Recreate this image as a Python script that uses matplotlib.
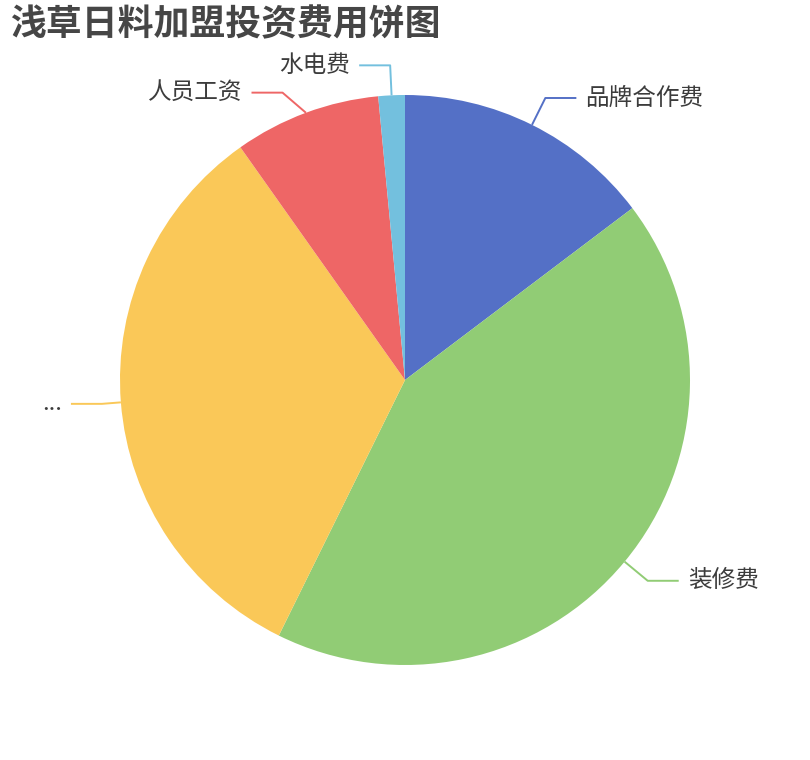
import matplotlib
matplotlib.use("Agg")
import matplotlib.pyplot as plt
import numpy as np

plt.rcParams['font.family'] = ['Noto Sans CJK SC', 'DejaVu Sans']

# data (share of total, clockwise from top)
names = ['品牌合作费', '装修费', '...', '人员工资', '水电费']
values = [14.7, 42.6, 32.9, 8.3, 1.5]
colors = ['#5470c6', '#91cc75', '#fac858', '#ee6666', '#73c0de']
title = '浅草日料加盟投资费用饼图'

# label layout tweaks (first segment length, bend shift)
len1 = [30, 30, 19, 30, 30]
shift = [(0, 0), (0, 0), (0, 0), (-13, -8), (0, 0)]

W, H = 810, 760
fig = plt.figure(figsize=(W / 100, H / 100), dpi=100)
ax = fig.add_axes([0, 0, 1, 1])

cx, cy, r = 405, 380, 285
wedges, _ = ax.pie(values, colors=colors, startangle=90, counterclock=False,
                   center=(cx, cy), radius=r, frame=True,
                   wedgeprops=dict(linewidth=0))
ax.set_xlim(0, W)
ax.set_ylim(0, H)
ax.set_aspect('equal')
ax.axis('off')

# leader lines + labels
tot = sum(values)
start = 0.0
for name, v, c, L, (sx_, sy_) in zip(names, values, colors, len1, shift):
    mid = start + v / tot * 360 / 2
    start += v / tot * 360
    a = np.deg2rad(mid)
    sx, sy = np.sin(a), np.cos(a)
    x0, y0 = cx + r * sx, cy + r * sy
    x1, y1 = cx + (r + L) * sx + sx_, cy + (r + L) * sy + sy_
    d = 1 if sx >= 0 else -1
    x2 = x1 + 31 * d
    ax.plot([x0, x1, x2], [y0, y1, y1], color=c, lw=1.4, solid_capstyle='butt')
    ax.text(x2 + 9 * d, y1, name, fontsize=17, color='#3c3c3c',
            ha='left' if d > 0 else 'right', va='center')

fig.text(10 / W, 1 - 25 / H, title, fontsize=25.8, fontweight='bold',
         color='#464646', ha='left', va='center')

fig.savefig('out.png', dpi=100, facecolor='white')
